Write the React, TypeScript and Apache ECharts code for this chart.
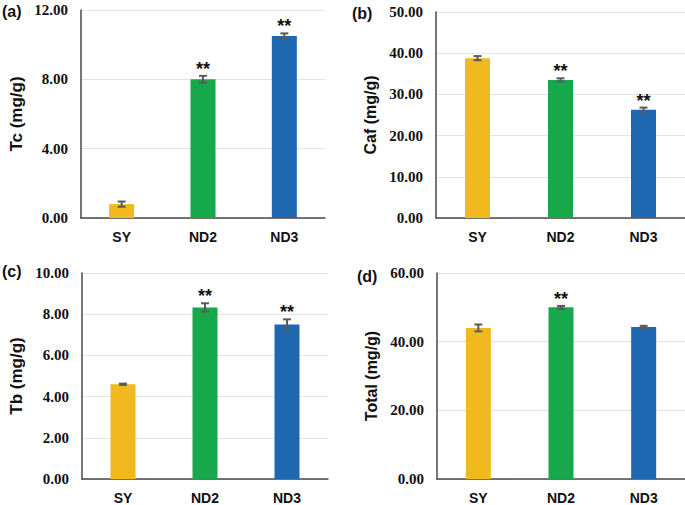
import React, { useEffect, useRef } from "react";
import * as echarts from "echarts";

const categories = ["SY", "ND2", "ND3"];
const barColors = ["#F1B81F", "#17A84C", "#1D68B0"];

const panelLabels = ["(a)", "(b)", "(c)", "(d)"];
const axisNames = ["Tc (mg/g)", "Caf (mg/g)", "Tb (mg/g)", "Total (mg/g)"];

const tcValues = [0.8, 8.0, 10.5];
const tcErrors = [0.15, 0.2, 0.15];
const tcStars = [0, 1, 1];

const cafValues = [38.8, 33.5, 26.3];
const cafErrors = [0.5, 0.4, 0.5];
const cafStars = [0, 1, 1];

const tbValues = [4.6, 8.33, 7.5];
const tbErrors = [0.03, 0.2, 0.25];
const tbStars = [0, 1, 1];

const totalValues = [44.0, 50.0, 44.3];
const totalErrors = [1.0, 0.4, 0.3];
const totalStars = [0, 1, 0];

const yMax = [12, 50, 10, 60];
const yInterval = [4, 10, 2, 20];

const panels = [
  { values: tcValues, errors: tcErrors, stars: tcStars },
  { values: cafValues, errors: cafErrors, stars: cafStars },
  { values: tbValues, errors: tbErrors, stars: tbStars },
  { values: totalValues, errors: totalErrors, stars: totalStars },
];

const grids = [
  { left: 81, top: 10, width: 244, height: 208 },
  { left: 436, top: 12, width: 249, height: 206 },
  { left: 82, top: 273, width: 246, height: 207 },
  { left: 437, top: 273, width: 248, height: 207 },
];

const nameSizes = [17, 16, 17, 16];
const nameGaps = [56, 58, 57, 58];

const labelPos = [
  { x: 2, y: 3 },
  { x: 352, y: 5 },
  { x: 2, y: 263 },
  { x: 357, y: 268 },
];

const sans = "Arial, Liberation Sans, sans-serif";
const serif = "Times New Roman, Liberation Serif, serif";

export default function App() {
  const ref = useRef<HTMLDivElement>(null);
  useEffect(() => {
    document.body.style.margin = "0";
    const chart = echarts.init(ref.current!, null, { renderer: "svg" });
    const option: any = {
      animation: false,
      backgroundColor: "#ffffff",
      grid: grids.map((g) => ({ ...g, containLabel: false })),
      xAxis: grids.map((_, i) => ({
        type: "category",
        gridIndex: i,
        data: categories,
        axisTick: { show: false },
        axisLine: { lineStyle: { color: "#4a4a4a", width: 1.5 } },
        axisLabel: {
          color: "#111",
          fontFamily: sans,
          fontWeight: "bold",
          fontSize: 14,
          margin: 12,
        },
      })),
      yAxis: grids.map((_, i) => ({
        type: "value",
        gridIndex: i,
        min: 0,
        max: yMax[i],
        interval: yInterval[i],
        name: axisNames[i],
        nameLocation: "middle",
        nameGap: nameGaps[i],
        nameTextStyle: {
          color: "#111",
          fontFamily: sans,
          fontWeight: "bold",
          fontSize: nameSizes[i],
        },
        axisLine: { show: true, lineStyle: { color: "#4a4a4a", width: 1.5 } },
        axisTick: { show: false },
        splitLine: { lineStyle: { color: "#e3e3e3", width: 1 } },
        axisLabel: {
          color: "#111",
          fontFamily: serif,
          fontWeight: "bold",
          fontSize: 15,
          margin: 13,
          formatter: (v: number) => v.toFixed(2),
        },
      })),
      series: [
        ...panels.map((p, i) => ({
          type: "bar",
          xAxisIndex: i,
          yAxisIndex: i,
          barWidth: 25,
          data: p.values.map((v, j) => ({ value: v, itemStyle: { color: barColors[j] } })),
        })),
        ...panels.map((p, i) => ({
          type: "custom",
          xAxisIndex: i,
          yAxisIndex: i,
          z: 10,
          data: p.values.map((v, j) => [j, v, p.errors[j], p.stars[j]]),
          renderItem: (params: any, api: any) => {
            const x = api.value(0);
            const v = api.value(1);
            const e = api.value(2);
            const s = api.value(3);
            const top = api.coord([x, v + e]);
            const bot = api.coord([x, v - e]);
            const cw = 4;
            const stroke = { stroke: "#5a5a5a", lineWidth: 2 };
            const children: any[] = [
              { type: "line", shape: { x1: top[0], y1: top[1], x2: bot[0], y2: bot[1] }, style: stroke },
              { type: "line", shape: { x1: top[0] - cw, y1: top[1], x2: top[0] + cw, y2: top[1] }, style: stroke },
              { type: "line", shape: { x1: bot[0] - cw, y1: bot[1], x2: bot[0] + cw, y2: bot[1] }, style: stroke },
            ];
            if (s) {
              children.push({
                type: "text",
                style: {
                  text: "**",
                  x: top[0],
                  y: top[1] + 2,
                  align: "center",
                  verticalAlign: "bottom",
                  fontFamily: sans,
                  fontWeight: "bold",
                  fontSize: 18,
                  fill: "#111",
                },
              });
            }
            return { type: "group", children };
          },
        })),
      ],
      graphic: panelLabels.map((t, i) => ({
        type: "text",
        left: labelPos[i].x,
        top: labelPos[i].y,
        style: {
          text: t,
          fontFamily: sans,
          fontWeight: "bold",
          fontSize: 16,
          fill: "#111",
        },
      })),
    };
    chart.setOption(option);
    return () => chart.dispose();
  }, []);
  return <div ref={ref} style={{ width: 685, height: 505 }} />;
}
